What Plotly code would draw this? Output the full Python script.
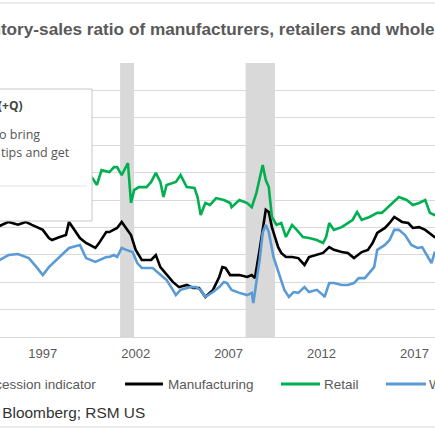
import plotly.graph_objects as go

# values (inventory / sales ratio), y axis 1.0 - 2.0
retail_dates = ["1994-09", "1995-06", "1996-03", "1997-01", "1997-10", "1998-08", "1999-03",
                "1999-09", "1999-12", "2000-03", "2000-08", "2000-11", "2001-01", "2001-04",
                "2001-08", "2001-10", "2001-12", "2002-03", "2002-08", "2002-11", "2003-02",
                "2003-05", "2003-07", "2003-09", "2004-03", "2004-06", "2004-10", "2005-03",
                "2005-05", "2005-07", "2005-10", "2006-01", "2006-05", "2006-10", "2007-02",
                "2007-03", "2007-08", "2008-01", "2008-04", "2008-07", "2008-11", "2009-01",
                "2009-03", "2009-05", "2009-08", "2009-11", "2010-02", "2010-06", "2010-09",
                "2011-01", "2011-05", "2011-10", "2012-02", "2012-04", "2012-06", "2012-09",
                "2013-02", "2013-06", "2013-09", "2013-12", "2014-03", "2014-08", "2015-01",
                "2015-04", "2015-08", "2015-11", "2016-03", "2016-08", "2016-12", "2017-04",
                "2017-08", "2017-11", "2018-02", "2018-05"]
retail_values = [1.60, 1.62, 1.61, 1.60, 1.58, 1.59, 1.57,
                 1.580, 1.555, 1.609, 1.602, 1.620, 1.620, 1.591,
                 1.635, 1.489, 1.536, 1.547, 1.547, 1.566, 1.599,
                 1.566, 1.511, 1.555, 1.566, 1.591, 1.547, 1.544,
                 1.511, 1.445, 1.489, 1.482, 1.507, 1.500, 1.489,
                 1.474, 1.500, 1.489, 1.474, 1.526, 1.628, 1.573,
                 1.547, 1.438, 1.409, 1.416, 1.365, 1.409, 1.391,
                 1.365, 1.361, 1.354, 1.343, 1.365, 1.416, 1.391,
                 1.401, 1.416, 1.427, 1.456, 1.427, 1.438, 1.453,
                 1.453, 1.474, 1.493, 1.511, 1.500, 1.482, 1.489,
                 1.500, 1.453, 1.445, 1.45]

manuf_dates = ["1994-09", "1995-03", "1995-09", "1996-02", "1996-06", "1996-09", "1997-01",
               "1997-05", "1997-07", "1997-12", "1998-04", "1998-06", "1999-01", "1999-05",
               "1999-11", "2000-01", "2000-06", "2000-08", "2001-01", "2001-04", "2001-07",
               "2001-10", "2002-01", "2002-05", "2002-11", "2003-02", "2003-05", "2003-09",
               "2004-01", "2004-05", "2004-10", "2005-02", "2005-06", "2005-10", "2006-03",
               "2006-07", "2006-09", "2006-11", "2007-02", "2007-08", "2008-01", "2008-04",
               "2008-06", "2008-09", "2008-11", "2009-01", "2009-03", "2009-05", "2009-09",
               "2009-11", "2010-02", "2010-06", "2010-10", "2011-02", "2011-05", "2011-10",
               "2012-02", "2012-06", "2012-09", "2013-02", "2013-06", "2013-10", "2014-03",
               "2014-07", "2014-10", "2015-01", "2015-06", "2015-09", "2015-12", "2016-05",
               "2016-09", "2016-12", "2017-04", "2017-08", "2017-12", "2018-02", "2018-05"]
manuf_values = [1.405, 1.42, 1.41, 1.42, 1.409, 1.40, 1.391,
                1.361, 1.354, 1.365, 1.372, 1.420, 1.361, 1.343,
                1.325, 1.340, 1.383, 1.383, 1.398, 1.420, 1.398,
                1.372, 1.318, 1.281, 1.281, 1.299, 1.255, 1.226,
                1.201, 1.182, 1.190, 1.179, 1.179, 1.146, 1.172,
                1.219, 1.255, 1.252, 1.226, 1.226, 1.219, 1.226,
                1.215, 1.318, 1.401, 1.464, 1.456, 1.401, 1.328,
                1.307, 1.292, 1.292, 1.288, 1.263, 1.292, 1.299,
                1.307, 1.328, 1.318, 1.310, 1.307, 1.288, 1.310,
                1.318, 1.343, 1.380, 1.398, 1.416, 1.438, 1.420,
                1.416, 1.398, 1.401, 1.391, 1.372, 1.365, 1.36]

whole_dates = ["1994-09", "1995-03", "1995-09", "1996-02", "1996-04", "1996-09", "1997-01",
               "1997-05", "1997-12", "1998-06", "1999-01", "1999-05", "1999-11", "2000-06",
               "2000-08", "2000-11", "2001-01", "2001-04", "2001-07", "2001-11", "2002-02",
               "2002-05", "2002-12", "2003-04", "2003-09", "2004-01", "2004-03", "2004-06",
               "2004-12", "2005-04", "2005-07", "2005-10", "2006-03", "2006-07", "2006-10",
               "2006-12", "2007-03", "2007-08", "2008-01", "2008-04", "2008-05", "2008-09",
               "2008-11", "2009-01", "2009-03", "2009-06", "2009-10", "2010-01", "2010-04",
               "2010-07", "2010-10", "2011-02", "2011-05", "2011-10", "2012-02", "2012-03",
               "2012-06", "2012-09", "2013-02", "2013-06", "2013-10", "2014-01", "2014-05",
               "2014-08", "2014-11", "2015-01", "2015-06", "2015-09", "2015-12", "2016-03",
               "2016-07", "2016-11", "2017-03", "2017-06", "2017-10", "2017-12", "2018-02",
               "2018-05"]
whole_values = [1.281, 1.299, 1.303, 1.292, 1.288, 1.255, 1.226,
                1.255, 1.292, 1.325, 1.336, 1.288, 1.274, 1.292,
                1.292, 1.299, 1.292, 1.325, 1.318, 1.310, 1.270,
                1.252, 1.252, 1.234, 1.208, 1.172, 1.153, 1.172,
                1.182, 1.182, 1.172, 1.146, 1.164, 1.182, 1.201,
                1.197, 1.172, 1.161, 1.153, 1.161, 1.124, 1.281,
                1.380, 1.409, 1.383, 1.292, 1.219, 1.172, 1.146,
                1.164, 1.161, 1.182, 1.164, 1.172, 1.153, 1.146,
                1.197, 1.197, 1.190, 1.190, 1.197, 1.215, 1.215,
                1.234, 1.255, 1.318, 1.336, 1.354, 1.391, 1.391,
                1.372, 1.336, 1.325, 1.328, 1.292, 1.270, 1.307,
                1.30]

recession_start = ["2001-03-01", "2007-12-01"]
recession_end = ["2001-11-30", "2009-06-30"]

year_ticks = ["1997-01-01", "2002-01-01", "2007-01-01", "2012-01-01", "2017-01-01"]
year_labels = ["1997", "2002", "2007", "2012", "2017"]

# pixel helpers for the page layout (plot area from y=63 to y=337)
def px(p):
    return p / 435

def py(p):
    return (337 - p) / 274

fig = go.Figure()
fig.add_trace(go.Scatter(x=manuf_dates, y=manuf_values, mode="lines", name="Manufacturing",
                         line=dict(color="#000000", width=2.6)))
fig.add_trace(go.Scatter(x=retail_dates, y=retail_values, mode="lines", name="Retail",
                         line=dict(color="#00b050", width=2.6)))
fig.add_trace(go.Scatter(x=whole_dates, y=whole_values, mode="lines", name="Wholesale",
                         line=dict(color="#5b9bd5", width=2.6)))

shapes = []
for a, b in zip(recession_start, recession_end):
    shapes.append(dict(type="rect", xref="x", yref="paper", x0=a, x1=b, y0=0, y1=1,
                       fillcolor="#d9d9d9", line=dict(width=0), layer="below"))

# chart border lines top / bottom
shapes.append(dict(type="line", xref="paper", yref="paper", x0=0, x1=1, y0=py(3), y1=py(3),
                   line=dict(color="#d9d9d9", width=1)))
shapes.append(dict(type="line", xref="paper", yref="paper", x0=0, x1=1, y0=py(427), y1=py(427),
                   line=dict(color="#d9d9d9", width=1)))

# legend samples
for x0, x1, col in [(125, 163, "#000000"), (281, 320, "#00b050"), (386, 426, "#5b9bd5")]:
    shapes.append(dict(type="line", xref="paper", yref="paper", x0=px(x0), x1=px(x1),
                       y0=py(384), y1=py(384), line=dict(color=col, width=3)))

# tooltip box sitting on top of the chart
shapes.append(dict(type="rect", xref="paper", yref="paper", x0=px(-5), x1=px(92),
                   y0=py(89), y1=py(221), fillcolor="white",
                   line=dict(color="#c8c8c8", width=1), layer="above"))
shapes.append(dict(type="line", xref="paper", yref="paper", x0=px(0), x1=px(87),
                   y0=py(186), y1=py(186), line=dict(color="#e3e3e3", width=1), layer="above"))

annotations = [
    dict(text="<b>Inventory-sales ratio of manufacturers, retailers and wholesalers</b>",
         x=px(-46), y=py(29), xanchor="left", yanchor="middle",
         font=dict(family="Liberation Sans", size=17.2, color="#595959")),
    dict(text="Source: Bloomberg; RSM US", x=px(-57), y=py(412), xanchor="left", yanchor="middle",
         font=dict(family="Liberation Sans", size=15.4, color="#333333")),
    dict(text="Recession indicator", x=px(98), y=py(384), xanchor="right", yanchor="middle",
         font=dict(family="Liberation Sans", size=13.5, color="#595959")),
    dict(text="Manufacturing", x=px(166), y=py(384), xanchor="left", yanchor="middle",
         font=dict(family="Liberation Sans", size=13.5, color="#595959")),
    dict(text="Retail", x=px(322), y=py(384), xanchor="left", yanchor="middle",
         font=dict(family="Liberation Sans", size=13.5, color="#595959")),
    dict(text="Wholesale", x=px(427), y=py(384), xanchor="left", yanchor="middle",
         font=dict(family="Liberation Sans", size=13.5, color="#595959")),
    dict(text="<b>(+Q)</b>", x=px(25), y=py(105), xanchor="right", yanchor="middle",
         font=dict(family="Open Sans", size=12, color="#444444")),
    dict(text="o bring", x=px(42), y=py(134), xanchor="right", yanchor="middle",
         font=dict(family="Open Sans", size=12.5, color="#555555")),
    dict(text="tips and get", x=px(72), y=py(152), xanchor="right", yanchor="middle",
         font=dict(family="Open Sans", size=12.5, color="#555555")),
]
for a in annotations:
    a.update(xref="paper", yref="paper", showarrow=False)

fig.update_layout(
    width=435, height=435,
    margin=dict(l=0, r=0, t=63, b=98),
    paper_bgcolor="white", plot_bgcolor="white",
    showlegend=False,
    shapes=shapes,
    annotations=annotations,
    xaxis=dict(type="date", range=["1994-09-13", "2018-02-09"], tickvals=year_ticks,
               ticktext=year_labels, ticks="", showgrid=False, showline=True,
               linecolor="#d9d9d9", linewidth=1, zeroline=False,
               tickfont=dict(family="Liberation Sans", size=13, color="#595959"),
               ticklabelstandoff=4),
    yaxis=dict(range=[1.0, 2.0], dtick=0.1, showticklabels=False, showgrid=True,
               gridcolor="#d9d9d9", gridwidth=1, zeroline=False, showline=False),
)

# page has an 8px body margin by default, drop it so the figure sits at 0,0
fig.write_html("out.html", config={"displayModeBar": False},
               post_script="document.body.style.margin='0';")
